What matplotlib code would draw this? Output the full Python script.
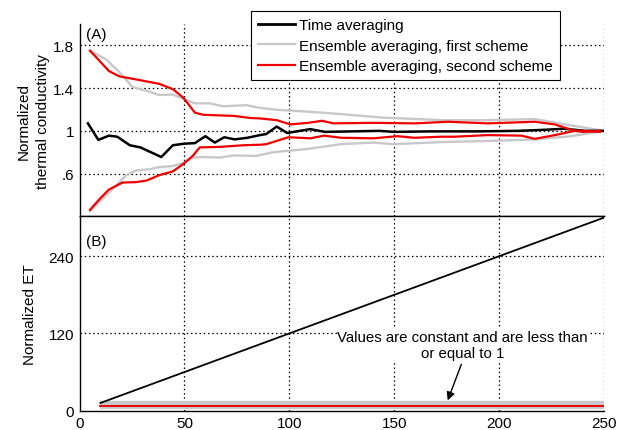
import matplotlib
matplotlib.use("Agg")
import matplotlib.pyplot as plt
from matplotlib.lines import Line2D

plt.rcParams['font.family'] = ['Liberation Sans', 'DejaVu Sans']

# ---- Data ----
# Panel A: normalized thermal conductivity
time_x = [4, 9, 14, 18, 24, 29, 39, 44.5, 50, 55, 60, 64.5, 69, 74, 80, 86, 89, 94, 99,
          110, 117, 130, 143, 150, 167, 190, 209, 222, 231, 241, 250]
time_y = [1.07, 0.915, 0.955, 0.945, 0.865, 0.845, 0.755, 0.865, 0.88, 0.885, 0.95, 0.89,
          0.94, 0.92, 0.935, 0.96, 0.97, 1.04, 0.98, 1.016, 0.99, 0.995, 1.0, 0.99, 0.995,
          0.995, 1.0, 1.01, 1.02, 1.0, 1.0]

ens1_x_up = [5, 12.6, 19, 25.3, 32, 38, 44.5, 49.5, 55, 62, 68.5, 79.6, 86, 94, 108.5,
             124.4, 143.5, 172.5, 194.7, 217, 234.5, 250]
ens1_y_up = [1.75, 1.67, 1.55, 1.41, 1.375, 1.335, 1.34, 1.30, 1.257, 1.257, 1.23, 1.24,
             1.215, 1.197, 1.18, 1.157, 1.125, 1.10, 1.10, 1.11, 1.05, 1.0]
ens1_x_lo = [5, 14, 22, 27, 33.4, 38, 44.5, 49.5, 54, 59, 67, 73.5, 84, 92.4, 108.5, 124.4,
             140, 150, 172.5, 194.7, 217, 234.5, 250]
ens1_y_lo = [0.25, 0.42, 0.58, 0.63, 0.64, 0.66, 0.67, 0.70, 0.75, 0.755, 0.75, 0.77, 0.765,
             0.80, 0.83, 0.875, 0.89, 0.875, 0.895, 0.905, 0.92, 0.95, 1.0]

ens2_x_up = [5, 9.5, 14, 19, 30, 38, 44.5, 49.5, 55, 59, 73.5, 81.5, 86, 94, 100.5, 109,
             115.6, 121, 140, 160, 175.5, 194.7, 217, 226.6, 236, 240, 248]
ens2_y_up = [1.75, 1.656, 1.56, 1.51, 1.47, 1.44, 1.39, 1.31, 1.17, 1.15, 1.14, 1.12, 1.116,
             1.10, 1.06, 1.075, 1.094, 1.07, 1.075, 1.07, 1.085, 1.07, 1.085, 1.06, 1.0,
             0.99, 1.0]
ens2_x_lo = [5, 9.5, 14, 20.5, 27, 32, 38, 44.5, 49.5, 54, 57.3, 67, 78, 86, 89, 99.6, 110,
             116.6, 124.6, 140, 151.6, 159.6, 172.5, 178.7, 194.7, 210.7, 217, 226.6, 236,
             240, 248]
ens2_y_lo = [0.26, 0.36, 0.45, 0.516, 0.52, 0.535, 0.585, 0.62, 0.69, 0.766, 0.845, 0.85,
             0.865, 0.87, 0.875, 0.94, 0.93, 0.955, 0.935, 0.93, 0.95, 0.935, 0.945, 0.945,
             0.96, 0.955, 0.925, 0.96, 1.0, 1.0, 0.99]

# Panel B: normalized ET
et_x = [10, 250]
et_time = [12, 300]
et_ens1 = [8.7, 8.7]
et_ens2 = [6.9, 6.9]

xticks = [0, 50, 100, 150, 200, 250]
a_yticks = [0.6, 1.0, 1.4, 1.8]
a_yticklabels = ['.6', '1', '1.4', '1.8']
b_yticks = [0, 120, 240]
b_yticklabels = ['0', '120', '240']

labels = ['Time averaging', 'Ensemble averaging, first scheme',
          'Ensemble averaging, second scheme']
note = 'Values are constant and are less than\nor equal to 1'

GRAY = '#c8c8cc'
RED = '#ee0000'

fig = plt.figure(figsize=(6.25, 4.31), dpi=100)
L, R = 0.1272, 0.9664
axA = fig.add_axes([L, 0.4958, R - L, 0.942 - 0.4958])
axB = fig.add_axes([L, 0.0448, R - L, 0.4958 - 0.0448])

grid_kw = dict(color='black', linestyle=(0, (1.2, 2.2)), linewidth=0.9)

# --- Panel A ---
axA.plot(ens1_x_up, ens1_y_up, color=GRAY, lw=1.7, zorder=2)
axA.plot(ens1_x_lo, ens1_y_lo, color=GRAY, lw=1.7, zorder=2)
axA.plot(time_x, time_y, color='black', lw=1.8, zorder=3)
axA.plot(ens2_x_up, ens2_y_up, color=RED, lw=1.6, zorder=4)
axA.plot(ens2_x_lo, ens2_y_lo, color=RED, lw=1.6, zorder=4)
axA.set_xlim(0, 250)
axA.set_ylim(0.2, 2.0)
axA.set_xticks(xticks)
axA.set_xticklabels([])
axA.set_yticks(a_yticks)
axA.set_yticklabels(a_yticklabels)
for v in a_yticks:
    axA.axhline(v, **grid_kw, zorder=1)
for v in xticks[1:]:
    axA.axvline(v, **grid_kw, zorder=1)
axA.spines['top'].set_visible(False)
axA.spines['right'].set_visible(False)
axA.set_ylabel('Normalized\nthermal conductivity', fontsize=11, labelpad=2,
               linespacing=1.45)
axA.text(3.2, 1.905, '(A)', fontsize=11, va='center', ha='left')

# --- Panel B ---
axB.plot(et_x, et_ens1, color=GRAY, lw=6, solid_capstyle='butt', zorder=2)
axB.plot(et_x, et_ens2, color=RED, lw=1.4, zorder=3)
axB.plot(et_x, et_time, color='black', lw=1.3, zorder=3)
axB.set_xlim(0, 250)
axB.set_ylim(0, 302)
axB.set_xticks(xticks)
axB.set_yticks(b_yticks)
axB.set_yticklabels(b_yticklabels)
for v in b_yticks[1:]:
    axB.axhline(v, **grid_kw, zorder=1)
for v in xticks[1:]:
    axB.axvline(v, **grid_kw, zorder=1)
axB.spines['right'].set_visible(False)
axB.set_ylabel('Normalized ET', fontsize=11, labelpad=8)
axB.text(3.2, 264, '(B)', fontsize=11, va='center', ha='left')
axB.text(182.7, 102, note, ha='center', va='center', fontsize=10.8, linespacing=1.2,
         bbox=dict(facecolor='white', edgecolor='none', pad=0.5), zorder=5)
axB.annotate('', xy=(175.5, 16), xytext=(182, 72),
             arrowprops=dict(arrowstyle='-|>', color='black', lw=1.0,
                             mutation_scale=12, shrinkA=0, shrinkB=0), zorder=5)

for ax in (axA, axB):
    ax.tick_params(direction='in', length=0, labelsize=11, pad=4)
    for s in ax.spines.values():
        s.set_linewidth(1.0)

handles = [Line2D([], [], color='black', lw=2.0),
           Line2D([], [], color=GRAY, lw=1.7),
           Line2D([], [], color=RED, lw=1.6)]
leg = fig.legend(handles, labels, loc='upper left', bbox_to_anchor=(0.4016, 0.9715),
                 fontsize=11, frameon=True, fancybox=False, framealpha=1,
                 edgecolor='black', handlelength=2.4, handletextpad=0.3,
                 borderpad=0.45, labelspacing=0.42, borderaxespad=0)
leg.get_frame().set_linewidth(0.8)

fig.savefig('out.png', dpi=100)
